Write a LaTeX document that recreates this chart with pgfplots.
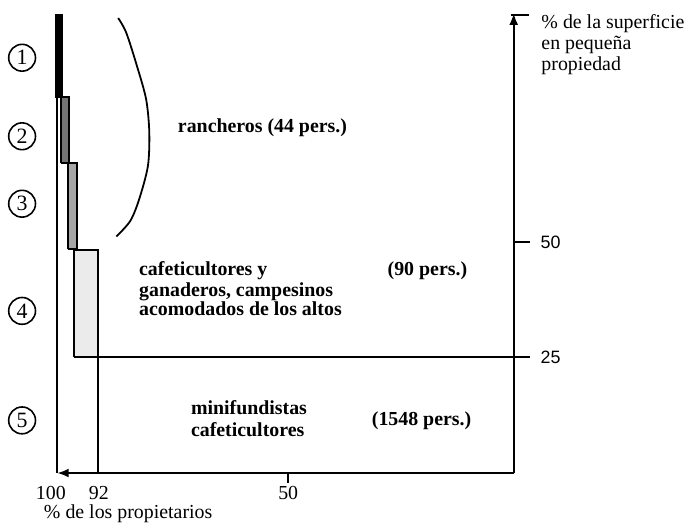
\documentclass[border=0pt]{standalone}
\usepackage{fontspec}
\setmainfont{Liberation Serif}
\setsansfont{Liberation Sans}
\usepackage{pgfplots}
\pgfplotsset{compat=1.18}
\usetikzlibrary{arrows.meta}

\begin{document}
\begin{tikzpicture}
\begin{axis}[
  x=2.27pt, y=2.325pt,
  x dir=reverse,
  xmin=0, xmax=101.3, ymin=0, ymax=99.6,
  axis x line=bottom, axis y line=right,
  axis line style={line width=1.2pt, -{Latex[length=6pt,width=4.5pt]}},
  clip=false,
  major tick length=0pt,
  /pgf/number format/assume math mode=true,
  xtick={101.3,92,50}, xticklabels={100\hspace*{6pt},92,50},
  xticklabel style={anchor=base, yshift=-13.5pt, font=\fontsize{10}{12}\selectfont},
  ytick={25,50},
  yticklabel style={anchor=west, xshift=10pt, font=\sffamily\fontsize{9}{10}\selectfont},
]
% bounding box of the page
\path (axis cs:113.9,102.4) rectangle (axis cs:-38.3,-11.6);

% tick marks and arrow stroke
\addplot[line width=1pt] coordinates {(50,0) (50,-2.15)};
\addplot[line width=1pt] coordinates {(0,50) (-3.7,50)};
\addplot[line width=1pt] coordinates {(0,25.2) (-3.7,25.2)};
\addplot[line width=1pt] coordinates {(0.6,99.1) (-3.3,99.1)};

% left outline
\addplot[line width=1pt] coordinates {(101.3,0) (101.3,81.3)};

% step bars (grupos 1 a 4)
\addplot[fill=black, draw=black, line width=0.8pt] coordinates {(101.6,81.3) (100.1,81.3) (100.1,99.1) (101.6,99.1) (101.6,81.3)};
\addplot[fill=black!55, draw=black, line width=1pt] coordinates {(100.3,67.1) (98.5,67.1) (98.5,81.3) (100.3,81.3) (100.3,67.1)};
\addplot[fill=black!35, draw=black, line width=1pt] coordinates {(98.9,48.4) (96.9,48.4) (96.9,67.1) (98.9,67.1) (98.9,48.4)};
\addplot[fill=black!8, draw=black, line width=1pt] coordinates {(97.4,25.2) (92.1,25.2) (92.1,48.2) (97.4,48.2) (97.4,25.2)};

% grupo 5 outline
\addplot[line width=1pt] coordinates {(92.1,0) (92.1,25.2) (0,25.2)};

% bracket for rancheros
\addplot[smooth, line width=0.9pt] coordinates {
  (87.7,98.5) (85.9,95.3) (83.5,88.0) (81.5,80.9) (80.8,73.8)
  (81.1,66.5) (83.0,59.4) (85.0,54.6) (88.1,51.2)};

% circled group numbers
\foreach \n/\yy in {1/89.9, 2/72.9, 3/58.3, 4/35.1, 5/11.4} {
  \edef\temp{\noexpand\node[circle, draw, line width=0.8pt, minimum size=13.5pt, inner sep=0pt,
    font=\noexpand\fontsize{11}{12}\noexpand\selectfont]
    at (axis cs:109,\yy) {\n};}
  \temp
}

% labels
\node[anchor=base west, font=\bfseries] at (axis cs:76.0,73.8) {rancheros (44 pers.)};
\node[anchor=base west, font=\bfseries] at (axis cs:84.6,42.8) {cafeticultores y};
\node[anchor=base west, font=\bfseries] at (axis cs:84.6,38.3) {ganaderos, campesinos};
\node[anchor=base west, font=\bfseries] at (axis cs:84.6,34.0) {acomodados de los altos};
\node[anchor=base west, font=\bfseries] at (axis cs:29.5,42.8) {(90 pers.)};
\node[anchor=base west, font=\bfseries] at (axis cs:73.1,12.7) {minifundistas};
\node[anchor=base west, font=\bfseries] at (axis cs:73.1,8.0) {cafeticultores};
\node[anchor=base west, font=\bfseries] at (axis cs:33.0,10.3) {(1548 pers.)};
\node[anchor=base west] at (axis cs:-4.6,96.3) {\% de la superficie};
\node[anchor=base west] at (axis cs:-4.6,91.6) {en pequeña};
\node[anchor=base west] at (axis cs:-4.6,87.1) {propiedad};
\node[anchor=base west] at (axis cs:105.7,-9.9) {\% de los propietarios};
\end{axis}
\end{tikzpicture}
\end{document}
